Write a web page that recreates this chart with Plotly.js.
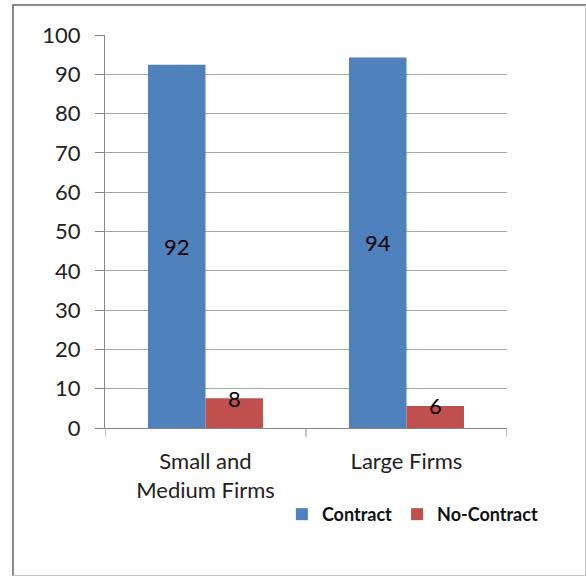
<!DOCTYPE html>
<html>
<head>
<meta charset="utf-8">
<script src="https://cdn.plot.ly/plotly-3.0.1.min.js"></script>
<style>
  html, body { margin:0; padding:0; background:#ffffff; }
  #frame { position:absolute; left:12px; top:4px; width:571px; height:569px;
           border-left:2px solid #8a8a8a; border-top:2px solid #8a8a8a;
           border-right:1px solid #c4c4c4; border-bottom:1px solid #c4c4c4; }
  #chart { position:absolute; left:0; top:0; width:586px; height:576px; }
</style>
</head>
<body>
<div id="frame"></div>
<div id="chart"></div>
<script>
const categories = ["Small and<br>Medium Firms", "Large Firms"];
const contract = [92.4, 94.3];
const noContract = [7.6, 5.6];
const seriesNames = ["Contract", "No-Contract"];
const yTicks = [0, 10, 20, 30, 40, 50, 60, 70, 80, 90, 100];

const FONT = "Lato, 'Open Sans', sans-serif";
const BARGAP = 0.428;

const traces = [
  {
    type: "bar", name: seriesNames[0], x: [0, 1], y: contract,
    marker: { color: "#4F81BD" },
    text: contract.map(v => String(Math.round(v))),
    textposition: "inside", insidetextanchor: "middle", constraintext: "none",
    textfont: { family: FONT, size: 22, color: "#000000" },
    hoverinfo: "none"
  },
  {
    type: "bar", name: seriesNames[1], x: [0, 1], y: noContract,
    marker: { color: "#C0504D" },
    hoverinfo: "none"
  }
];

// Labels for the small red bars sit at the bar top
const annotations = noContract.map((v, i) => ({
  x: i + (1 - BARGAP) / 4, y: v, xref: "x", yref: "y",
  text: String(Math.round(v)), showarrow: false,
  yanchor: "middle", xanchor: "center",
  font: { family: FONT, size: 22, color: "#000000" }
}));

const layout = {
  width: 586, height: 576,
  margin: { l: 105, r: 79, t: 35, b: 148 },
  paper_bgcolor: "rgba(0,0,0,0)",
  plot_bgcolor: "rgba(0,0,0,0)",
  font: { family: FONT, size: 22, color: "#222222" },
  barmode: "group", bargap: BARGAP, bargroupgap: 0,
  showlegend: true,
  legend: {
    orientation: "h", x: 0.44, xanchor: "left", y: -0.22, yanchor: "middle",
    font: { family: FONT, size: 18, color: "#111111", weight: "bold" },
    itemwidth: 30, tracegroupgap: 0
  },
  xaxis: {
    type: "linear", range: [-0.5, 1.5],
    tickmode: "array", tickvals: [0, 1], ticktext: categories,
    ticks: "", showgrid: false, zeroline: false,
    showline: true, linecolor: "#868686", linewidth: 1,
    ticklabelstandoff: 14,
    tickfont: { family: FONT, size: 22, color: "#222222" },
    fixedrange: true
  },
  yaxis: {
    range: [0, 100], tickmode: "array", tickvals: yTicks,
    ticks: "outside", ticklen: 9, tickcolor: "#868686",
    showline: true, linecolor: "#868686", linewidth: 1,
    showgrid: true, gridcolor: "#a6a6a6", gridwidth: 1,
    zeroline: false, ticklabelstandoff: 10,
    tickfont: { family: FONT, size: 22, color: "#222222" },
    fixedrange: true
  },
  shapes: [-0.5, 0.5, 1.5].map(b => ({
    type: "line", xref: "x", yref: "paper", x0: b, x1: b, y0: 0, y1: -0.022,
    line: { color: "#868686", width: 1 }
  })),
  annotations: annotations
};

Plotly.newPlot("chart", traces, layout, { displayModeBar: false, staticPlot: true });
</script>
</body>
</html>
